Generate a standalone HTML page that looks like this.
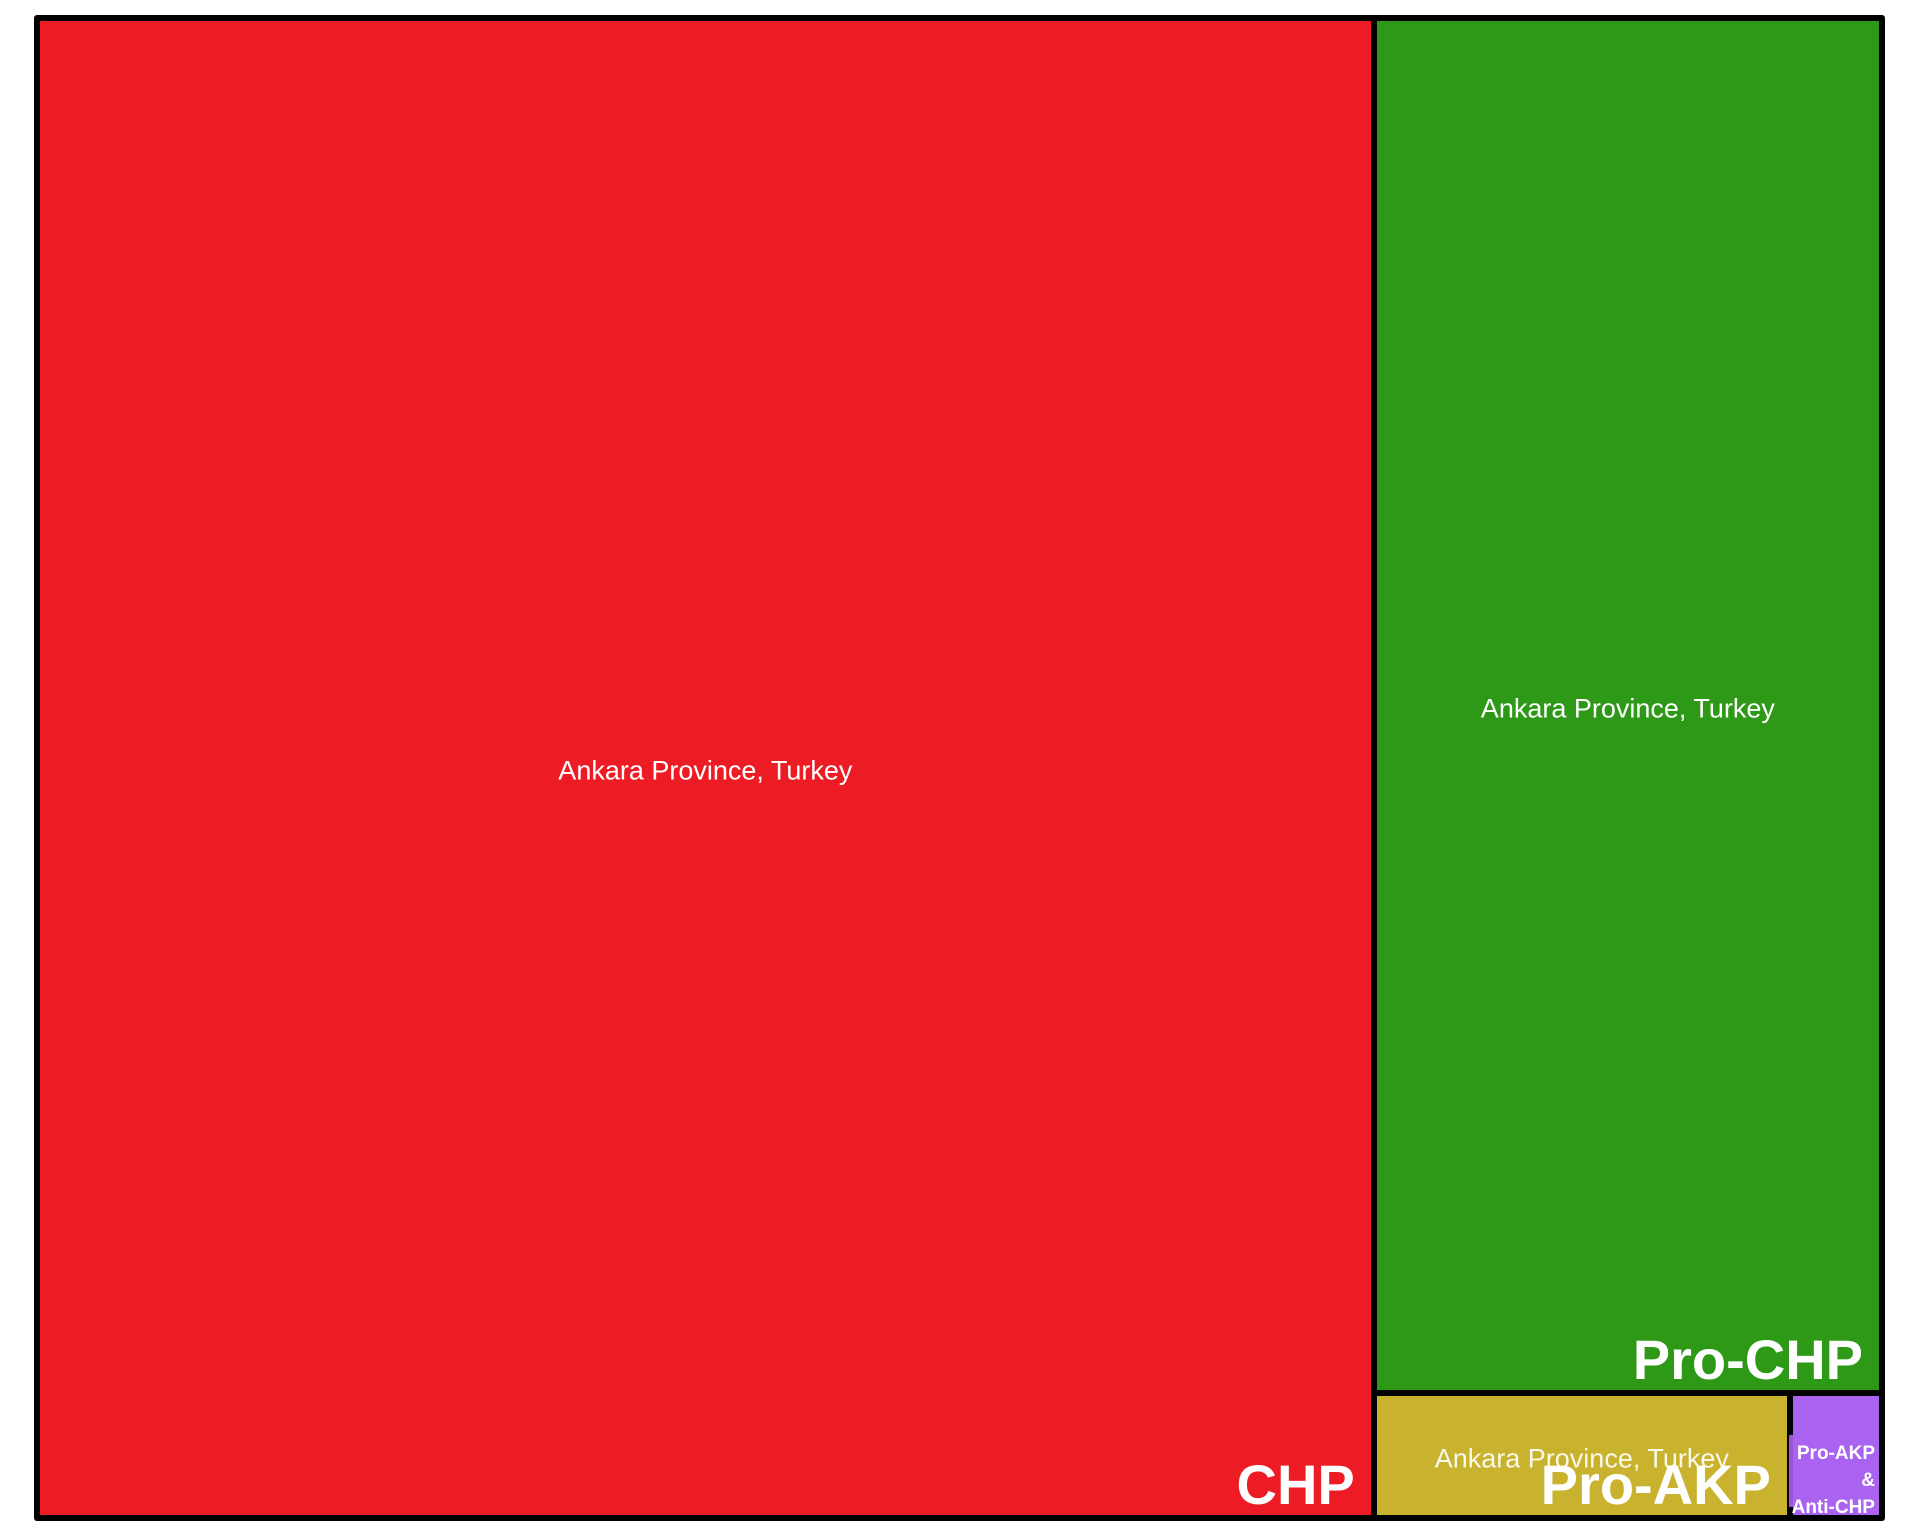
<!DOCTYPE html>
<html><head><meta charset="utf-8"><style>
html,body{margin:0;padding:0;background:#fff;}
#chart{position:relative;width:1920px;height:1536px;overflow:hidden;font-family:"Liberation Sans",Arial,sans-serif;}
.frame{position:absolute;left:34px;top:15px;width:1851px;height:1506px;background:#000;border-radius:3px;}
.tile{position:absolute;overflow:hidden;}
.sub{position:absolute;color:#fff;font-size:27px;white-space:nowrap;transform:translate(-50%,-50%);}
.big{position:absolute;color:#fff;font-weight:bold;white-space:nowrap;text-align:right;line-height:1;}
</style></head><body>
<div id="chart">
<div class="frame"></div>
</div>
<script>
const categories = ["CHP", "Pro-CHP", "Pro-AKP", "Pro-AKP & Anti-CHP"];
const values = [72.6, 25.21, 1.81, 0.38];
const colors = ["#ed1c24", "#2e9916", "#c8b22e", "#a963f0"];
const subLabel = "Ankara Province, Turkey";

const chart = document.getElementById('chart');
const X0 = 40, Y0 = 21, X1 = 1879, Y1 = 1515, GAP = 6;
const total = values.reduce((a, b) => a + b, 0);
const rects = [];
const wAll = X1 - X0 - GAP;
const w0 = wAll * values[0] / total;
rects.push({x: X0, y: Y0, w: w0, h: Y1 - Y0});
const rx = X0 + w0 + GAP, rw = X1 - rx;
const restTot = values[1] + values[2] + values[3];
const hAll = Y1 - Y0 - GAP;
const h1 = hAll * values[1] / restTot;
rects.push({x: rx, y: Y0, w: rw, h: h1});
const by = Y0 + h1 + GAP, bh = Y1 - by;
const bw = rw - GAP;
const w2 = bw * values[2] / (values[2] + values[3]);
rects.push({x: rx, y: by, w: w2, h: bh});
rects.push({x: rx + w2 + GAP, y: by, w: rw - w2 - GAP, h: bh});

const bigSizes = [56, 56, 56, 19];
rects.forEach((r, i) => {
  const d = document.createElement('div');
  d.className = 'tile';
  
  
  d.style.left = r.x + 'px'; d.style.top = r.y + 'px';
  d.style.width = r.w + 'px'; d.style.height = r.h + 'px';
  d.style.background = colors[i];
  chart.appendChild(d);
  if (i < 3) {
    const s = document.createElement('div');
    s.className = 'sub';
    
    
    s.textContent = subLabel;
    s.style.left = (r.x + r.w / 2) + 'px';
    s.style.top = (r.y + r.h / 2 + 3) + 'px';
    if (i === 2) s.style.color = 'rgba(255,255,255,0.9)';
    chart.appendChild(s);
  }
  if (i === 3) {
    const strip = document.createElement('div');
    
    
    strip.style.cssText = 'position:absolute;background:#9a55d8;width:4px;';
    strip.style.left = (r.x - 4) + 'px';
    strip.style.top = (r.y + 39) + 'px';
    strip.style.height = (r.h - 47) + 'px';
    chart.appendChild(strip);
  }
  const b = document.createElement('div');
  b.className = 'big';
  
  
  b.style.fontSize = bigSizes[i] + 'px';
  if (i === 3) {
    b.innerHTML = 'Pro-AKP<br>&amp;<br>Anti-CHP';
    b.style.lineHeight = '27px';
    b.style.right = (1920 - (r.x + r.w) + 4) + 'px';
    b.style.bottom = (1536 - (r.y + r.h) - 6) + 'px';
  } else {
    b.textContent = categories[i];
    b.style.right = (1920 - (r.x + r.w) + 16) + 'px';
    b.style.bottom = (1536 - (r.y + r.h) + 2) + 'px';
  }
  chart.appendChild(b);
});
</script>
</body></html>
